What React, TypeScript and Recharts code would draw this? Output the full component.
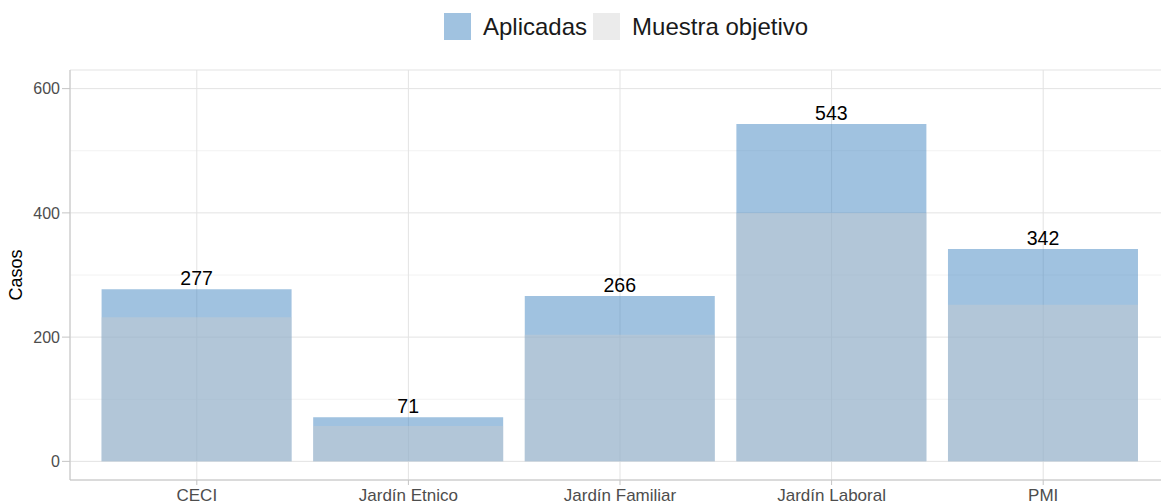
import { ComposedChart, Bar, XAxis, YAxis, CartesianGrid, LabelList } from 'recharts'

const categories = ['CECI', 'Jardín Etnico', 'Jardín Familiar', 'Jardín Laboral', 'PMI']
const aplicadas = [277, 71, 266, 543, 342]
const muestraObjetivo = [232, 57, 204, 400, 252]
const yTicks = [0, 200, 400, 600]
const yMinorTicks = [100, 300, 500]

const seriesNames = ['Aplicadas', 'Muestra objetivo']
const blue = '#4185c1'
const grey = '#cdcdcd'

const data = categories.map((c, i) => ({
  categoria: c,
  aplicadas: aplicadas[i],
  muestra: muestraObjetivo[i],
}))

const font = '"Liberation Sans", Arial, sans-serif'
const border = '#c4c4c4'

function YLabel(props: any) {
  const vb = props.viewBox || {}
  const cy = vb.y + vb.height / 2
  return (
    <text
      x={22}
      y={cy}
      transform={`rotate(-90, 22, ${cy})`}
      textAnchor="middle"
      fontSize={18}
      fill="#000"
      fontFamily={font}
    >
      Casos
    </text>
  )
}

function LegendKey({ color, opacity, label }: { color: string; opacity: number; label: string }) {
  return (
    <div style={{ display: 'flex', alignItems: 'center' }}>
      <div style={{ width: 27, height: 27, background: color, opacity }} />
      <span style={{ marginLeft: 12, marginRight: 6, fontSize: 24, color: '#1a1a1a' }}>{label}</span>
    </div>
  )
}

export default function App() {
  return (
    <div
      style={{
        position: 'absolute',
        left: 0,
        top: 0,
        width: 1161,
        height: 503,
        overflow: 'hidden',
        background: '#fff',
        fontFamily: font,
      }}
    >
      <div style={{ position: 'absolute', left: 444, top: 13, display: 'flex', height: 27 }}>
        <LegendKey color={blue} opacity={0.5} label={seriesNames[0]} />
        <LegendKey color={grey} opacity={0.4} label={seriesNames[1]} />
      </div>
      <ComposedChart
        width={1180}
        height={503}
        data={data}
        margin={{ top: 70, right: 10, bottom: 0, left: 0 }}
        barCategoryGap="5%"
      >
        <CartesianGrid vertical={false} horizontalValues={yMinorTicks} stroke="#f2f2f2" />
        <CartesianGrid stroke="#e3e3e3" />
        <XAxis
          dataKey="categoria"
          padding={{ left: 21, right: 21 }}
          height={23}
          tickSize={5}
          tickMargin={4}
          stroke={border}
          tick={{ fill: '#4d4d4d', fontSize: 17, fontFamily: font }}
          tickLine={{ stroke: border }}
          axisLine={{ stroke: border }}
          interval={0}
        />
        <XAxis
          xAxisId="top"
          dataKey="categoria"
          orientation="top"
          padding={{ left: 21, right: 21 }}
          height={0}
          tick={false}
          tickLine={false}
          axisLine={{ stroke: border }}
        />
        <YAxis
          width={70}
          domain={[-30, 630]}
          ticks={yTicks}
          tickSize={8}
          tickMargin={2}
          tick={{ fill: '#4d4d4d', fontSize: 16, fontFamily: font }}
          tickLine={{ stroke: border }}
          axisLine={{ stroke: border }}
          label={{ content: <YLabel /> }}
        />
        <Bar dataKey="aplicadas" name={seriesNames[0]} fill={blue} fillOpacity={0.5} isAnimationActive={false}>
          <LabelList dataKey="aplicadas" position="top" offset={4} fill="#000" fontSize={19.5} fontFamily={font} />
        </Bar>
        <Bar
          dataKey="muestra"
          name={seriesNames[1]}
          xAxisId="top"
          fill={grey}
          fillOpacity={0.4}
          isAnimationActive={false}
        />
      </ComposedChart>
    </div>
  )
}
